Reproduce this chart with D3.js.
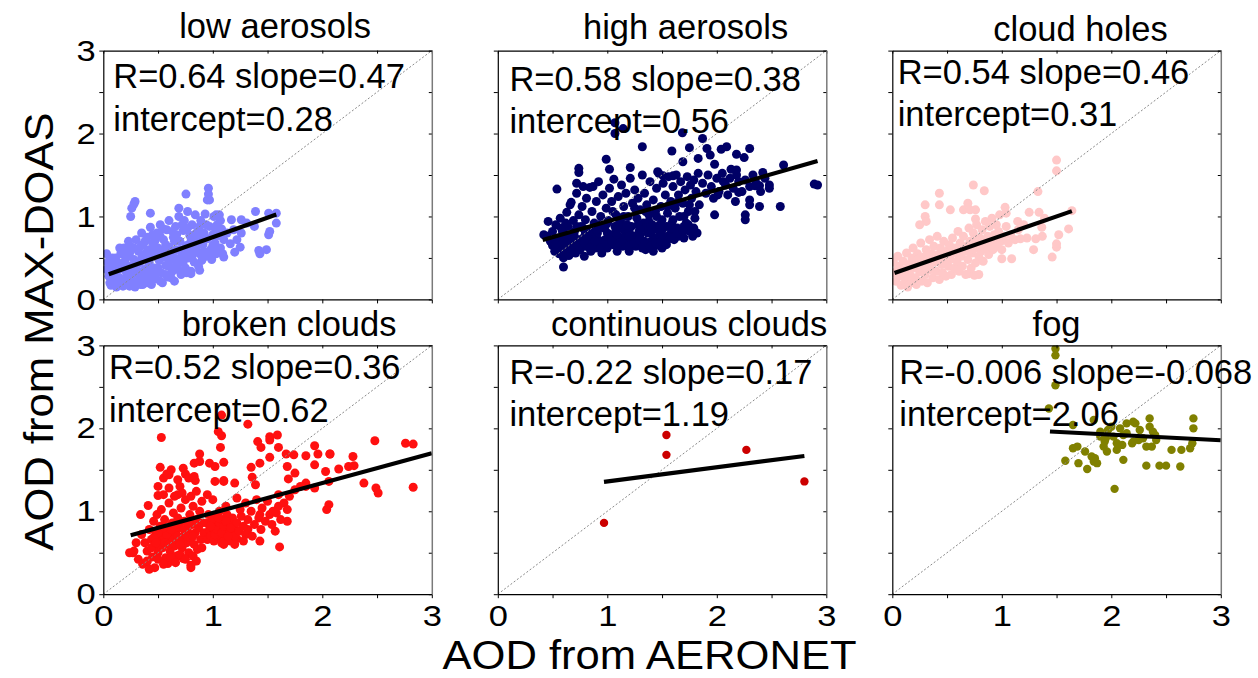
<!DOCTYPE html>
<html>
<head>
<meta charset="utf-8">
<script src="https://cdn.jsdelivr.net/npm/d3@7"></script>
<style>
  html, body { margin: 0; padding: 0; background: #fff; }
  svg { display: block; font-family: "Liberation Sans", Arial, Helvetica, sans-serif; }
</style>
</head>
<body>
<svg id="chart" width="1258" height="678"></svg>
<script>
// ---- data -------------------------------------------------------------
const panelTitles = ["low aerosols", "high aerosols", "cloud holes",
                     "broken clouds", "continuous clouds", "fog"];
const rValues    = ["0.64", "0.58", "0.54", "0.52", "-0.22", "-0.006"];
const slopes     = [0.47, 0.38, 0.46, 0.36, 0.17, -0.068];
const intercepts = [0.28, 0.56, 0.31, 0.62, 1.19, 2.06];
// AERONET range covered by each fit line
const fitRanges  = [[0.05, 1.58], [0.41, 2.92], [0.02, 1.64], [0.25, 3.0], [0.97, 2.8], [1.44, 3.0]];
const tickValues = [0, 0.5, 1, 1.5, 2, 2.5, 3];
const tickLabels = [0, 1, 2, 3];
const xAxisTitle = "AOD from AERONET";
const yAxisTitle = "AOD from MAX-DOAS";

// [AOD AERONET, AOD MAX-DOAS]
const lowAerosols = [
  [0.03,0.55],[0.04,0.45],[0.03,0.36],[0.05,0.28],[0.06,0.2],[0.08,0.5],[0.09,0.4],[0.1,0.31],[0.1,0.22],[0.12,0.15],
  [0.13,0.45],[0.14,0.36],[0.15,0.26],[0.16,0.55],[0.17,0.19],[0.07,0.17],[0.18,0.16],[0.24,0.16],[0.36,0.18],
  [0.19,0.62],[0.2,0.47],[0.2,0.35],[0.21,0.27],[0.22,0.19],[0.23,0.7],[0.24,0.56],[0.25,0.4],[0.26,0.3],[0.27,0.22],
  [0.28,0.62],[0.28,0.48],[0.29,0.15],[0.3,0.72],[0.3,0.36],[0.2,0.56],[0.3,0.44],
  [0.26,1.1],[0.29,1.18],[0.28,1.15],[0.25,1.0],
  [0.32,0.58],[0.33,0.44],[0.33,0.27],[0.34,0.18],[0.35,0.8],[0.36,0.66],[0.37,0.52],[0.38,0.36],[0.39,0.23],[0.4,0.75],
  [0.41,0.6],[0.42,0.44],[0.42,0.3],[0.43,0.87],[0.44,0.18],[0.45,0.68],[0.45,0.52],[0.43,1.04],[0.35,0.5],[0.4,0.38],
  [0.45,0.6],[0.45,0.78],
  [0.47,0.38],[0.48,0.25],[0.49,0.8],[0.5,0.62],[0.51,0.47],[0.52,0.9],[0.53,0.32],[0.54,0.2],[0.55,0.72],[0.56,0.55],
  [0.57,0.41],[0.58,0.84],[0.59,0.27],[0.6,0.63],[0.6,0.95],[0.55,0.6],[0.5,0.38],[0.6,0.4],[0.55,0.85],
  [0.62,0.48],[0.63,0.34],[0.64,0.75],[0.65,0.22],[0.66,0.88],[0.67,0.6],[0.68,0.42],[0.69,1.0],[0.7,0.7],[0.71,0.3],
  [0.72,0.53],[0.73,0.83],[0.74,0.95],[0.75,0.38],[0.69,1.1],[0.76,0.65],[0.65,0.5],[0.75,0.55],[0.7,0.5],[0.65,0.7],
  [0.77,1.06],[0.78,0.5],[0.79,0.77],[0.8,0.34],[0.81,0.9],[0.82,0.6],[0.83,0.45],[0.84,1.02],[0.85,0.7],[0.86,0.82],
  [0.87,0.4],[0.88,0.55],[0.89,0.95],[0.9,0.47],[0.755,1.27],[0.85,0.6],[0.8,0.7],[0.9,0.75],
  [0.91,0.66],[0.92,0.8],[0.93,1.03],[0.94,0.52],[0.95,0.73],[0.96,1.34],[0.96,1.27],[0.97,1.2],[0.97,0.88],[0.98,0.6],
  [0.99,0.48],[1.0,0.78],[1.01,1.0],[1.02,0.68],[1.03,0.55],[1.04,0.9],[1.05,0.77],[1.06,1.02],[1.07,0.62],[1.08,0.85],
  [1.09,0.55],[1.1,0.72],[1.1,0.51],
  [1.17,0.96],[1.19,0.84],[1.26,0.8],[1.25,0.63],[1.16,0.67],[1.2,0.57],[1.31,0.92],[1.39,1.06],[1.38,0.88],[1.42,0.59],
  [1.43,0.55],[1.49,0.6],[1.51,0.78],[1.52,0.82],[1.58,0.92],[1.58,1.04],[1.51,1.04],[1.26,0.96],[0.88,0.35],[0.76,0.32],
  [0.8,0.31],[1.03,1.02],[0.95,1.2],[1.13,0.8],[1.22,0.72],
  [0.06,0.33],[0.11,0.5],[0.12,0.38],[0.18,0.42],[0.22,0.52],[0.23,0.31],[0.27,0.4],[0.32,0.34],[0.34,0.64],[0.38,0.7],
  [0.39,0.56],[0.41,0.48],[0.44,0.36],[0.47,0.7],[0.48,0.55],[0.49,0.32],[0.52,0.76],[0.53,0.5],[0.57,0.66],[0.58,0.5],
  [0.62,0.58],[0.63,0.82],[0.66,0.4],[0.67,0.78],[0.7,0.6],[0.72,0.9],[0.73,0.45],[0.77,0.86],[0.78,0.6],[0.81,0.52],
  [0.83,0.78],[0.87,0.66],[0.88,0.88],[0.92,0.58],[0.94,0.9],[0.96,0.55],[1.0,0.65],[1.02,0.86],[1.05,0.6],[1.07,0.95],
  [0.15,0.62],[0.25,0.64],[0.35,0.28],[0.46,0.26],[0.57,0.3],[0.68,0.36],[0.62,0.26],[0.52,0.22],[0.4,0.2],[0.3,0.18],
  [0.14,0.2],[0.05,0.42]
];

const highAerosols = [
  [1.07,2.13],[1.07,2.0],[1.145,2.06],[1.686,2.01],[1.32,1.84],[1.59,1.79],[1.75,1.83],[1.87,1.94],[1.91,1.82],[1.94,1.74],
  [2.04,1.81],[2.09,1.84],[2.18,1.75],[2.25,1.71],[2.3,1.82],[0.99,1.69],[0.74,1.58],[0.74,1.53],[1.02,1.57],[1.21,1.59],
  [1.46,1.54],[1.51,1.49],[1.6,1.49],[1.69,1.66],[1.83,1.7],[1.98,1.63],[2.13,1.57],[2.18,1.56],[2.42,1.53],[2.61,1.62],
  [2.89,1.39],[2.92,1.38],[2.48,1.34],[2.39,1.37],[2.35,1.37],[2.2,1.29],[2.3,1.2],[2.3,1.14],[2.39,1.12],[2.58,1.12],
  [2.17,1.18],[1.98,1.02],[2.26,1.02],[2.26,0.96],[2.06,1.42],[2.01,1.26],[0.54,1.33],[0.42,0.78],[0.46,0.94],[0.6,0.39],
  [0.45,0.76],[0.48,0.7],[0.5,0.82],[0.5,0.65],[0.52,0.58],[0.53,0.9],[0.55,0.74],[0.56,0.55],[0.57,0.98],[0.58,0.66],
  [0.59,0.82],[0.6,0.5],[0.61,0.72],[0.62,0.6],[0.63,1.05],[0.64,0.88],[0.65,0.53],[0.66,0.76],[0.67,1.17],[0.68,0.64],
  [0.69,0.95],[0.7,0.82],[0.71,0.56],[0.72,1.28],[0.73,0.7],[0.74,1.02],[0.75,0.6],[0.76,0.88],[0.77,1.12],[0.78,0.74],
  [0.79,0.52],[0.8,0.96],[0.81,1.22],[0.82,0.66],[0.83,0.84],[0.84,1.35],[0.85,0.58],[0.86,1.06],[0.87,0.75],[0.88,0.92],
  [0.89,0.62],[0.9,1.18],[0.72,1.4],[0.78,1.36],[0.87,1.36],[0.66,1.14],
  [0.91,0.8],[0.92,1.42],[0.93,0.68],[0.94,1.0],[0.95,0.56],[0.96,1.26],[0.97,0.86],[0.98,0.72],[0.99,1.1],[1.0,0.62],
  [1.01,0.95],[1.02,1.34],[1.03,0.78],[1.04,1.18],[1.05,0.66],[1.06,1.45],[1.07,0.88],[1.08,1.02],[1.09,0.58],[1.1,1.24],
  [1.11,0.74],[1.12,0.94],[1.13,1.38],[1.14,0.64],[1.15,1.12],[1.16,0.82],[1.17,1.28],[1.18,0.7],[1.19,1.0],[1.2,0.58],
  [1.21,1.46],[1.22,0.88],[1.23,1.16],[1.24,0.76],[1.25,1.32],[1.26,0.64],[1.27,0.98],[1.28,1.22],[1.29,0.82],[1.3,1.08],
  [1.31,0.7],[1.32,1.5],[1.33,0.92],[1.34,1.28],[1.35,0.6],[1.36,1.14],[1.37,0.8],[1.38,1.02],[1.39,1.42],[1.4,0.7],
  [1.41,0.9],[1.42,1.2],[1.43,0.64],[1.44,1.06],[1.45,1.34],[1.46,0.84],[1.47,1.52],[1.48,0.74],[1.49,1.12],[1.5,0.96],
  [1.51,1.4],[1.52,0.68],[1.53,1.26],[1.54,0.88],[1.55,1.04],[1.56,1.48],[1.57,0.78],[1.58,1.18],[1.59,0.92],[1.6,1.36],
  [1.61,0.72],[1.62,1.1],[1.63,1.5],[1.64,0.86],[1.65,1.26],[1.66,1.0],[1.67,1.42],[1.68,0.8],[1.69,1.16],[1.7,0.74],
  [1.71,1.32],[1.72,0.92],[1.73,1.48],[1.74,1.06],[1.75,0.82],[1.76,1.38],[1.77,1.22],[1.78,0.76],[1.79,1.44],[1.8,0.98],
  [1.81,1.3],[1.82,0.8],[1.83,1.52],[1.84,1.14],
  [1.87,1.4],[1.9,1.28],[1.92,1.5],[1.95,1.36],[1.97,1.22],[2.0,1.46],[2.02,1.3],[2.05,1.52],[2.08,1.38],[2.1,1.26],
  [2.12,1.46],[2.15,1.34],[2.18,1.5],[2.2,1.42],[2.23,1.3],[2.26,1.44],[2.3,1.36],[2.33,1.5],[2.36,1.4],[2.4,1.3],
  [2.44,1.46],[2.48,1.38],
  [0.55,0.62],[0.6,0.7],[0.65,0.66],[0.7,0.62],[0.75,0.72],[0.8,0.64],[0.85,0.7],[0.9,0.76],[0.95,0.7],[1.0,0.8],
  [1.05,0.76],[1.1,0.68],[1.15,0.74],[1.2,0.82],[1.25,0.7],[1.3,0.78],[1.35,0.86],[1.4,0.8],[1.45,0.74],[1.5,0.84],
  [1.55,0.72],[1.6,0.82],[1.65,0.76],[1.7,0.88],[0.58,0.86],[0.68,0.78],[0.78,0.86],[0.88,0.82],[0.98,0.88],[1.08,0.84],
  [1.18,0.9],[1.28,0.9],[1.38,0.94],[1.48,0.9],[1.58,0.86],[0.62,0.92],[0.72,0.88],[0.82,0.76],[0.92,0.9],[1.02,0.72],
  [1.12,0.86],[1.22,0.64],[1.32,0.62],[1.42,0.58],[1.5,0.62],[0.52,0.72],[0.57,0.6],[0.63,0.76],[0.67,0.56],[0.76,0.66],
  [0.53,0.66],[0.58,0.58],[0.63,0.68],[0.69,0.72],[0.74,0.64],[0.79,0.68],[0.84,0.62],[0.89,0.7],[0.94,0.62],[0.99,0.66],
  [1.04,0.7],[1.09,0.78],[1.14,0.7],[1.19,0.64],[1.24,0.68],[1.29,0.72],[1.34,0.7],[1.39,0.64],[1.44,0.68],[1.49,0.7],
  [1.54,0.66],[1.59,0.74],[1.64,0.8],[1.69,0.84],[1.74,0.9],[1.79,0.86],[0.6,0.8],[0.7,0.76],[0.8,0.8],[0.9,0.84],
  [1.0,0.92],[1.1,0.9],[1.2,0.76],[1.3,0.84],[1.4,0.88],[1.5,0.78],[1.6,0.96],[1.7,1.0],[1.8,1.06],[1.05,1.06],
  [1.15,1.0],[1.25,1.1],[1.35,1.06],[1.45,1.0],[1.55,1.12],[1.65,1.18],[1.75,1.14]
];

const cloudHoles = [
  [1.5,1.68],[1.5,1.55],[0.74,1.38],[0.84,1.31],[0.43,1.28],[0.43,1.14],[0.3,1.14],[0.3,1.0],[0.31,0.94],[0.25,0.9],
  [0.69,1.16],[0.65,1.08],[0.53,1.08],[0.71,1.08],[0.76,1.08],[0.76,0.97],[1.03,1.11],[1.04,1.04],[1.33,1.3],[1.25,1.05],
  [1.34,1.05],[1.39,0.98],[1.145,0.94],[1.365,0.87],[1.52,0.78],[1.61,0.85],[1.64,1.07],[1.37,0.76],[1.31,0.73],[1.29,0.6],
  [1.5,0.67],[1.5,0.63],[1.46,0.51],[1.23,0.74],[1.17,0.73],[1.09,0.49],[0.7,0.31],[0.75,0.29],[0.79,0.3],[1.0,0.49],
  [0.01,0.45],[0.02,0.32],[0.03,0.22],[0.05,0.52],[0.06,0.4],[0.07,0.28],[0.08,0.17],[0.1,0.46],[0.11,0.35],[0.12,0.24],
  [0.13,0.56],[0.14,0.15],[0.15,0.42],[0.16,0.3],[0.17,0.2],[0.18,0.5],[0.19,0.62],[0.2,0.38],[0.21,0.26],[0.22,0.18],
  [0.23,0.55],[0.24,0.44],[0.25,0.33],[0.26,0.68],[0.27,0.22],[0.28,0.5],[0.29,0.4],[0.3,0.3],[0.31,0.6],[0.32,0.2],
  [0.33,0.46],[0.34,0.72],[0.35,0.36],[0.36,0.55],[0.37,0.26],[0.38,0.64],[0.39,0.45],[0.4,0.34],[0.41,0.76],[0.42,0.54],
  [0.43,0.24],[0.44,0.62],[0.45,0.42],[0.46,0.32],[0.47,0.7],[0.48,0.5],[0.49,0.28],[0.5,0.58],[0.51,0.4],[0.52,0.66],
  [0.53,0.48],[0.54,0.3],[0.55,0.74],[0.56,0.56],[0.57,0.38],[0.58,0.62],[0.59,0.46],[0.6,0.82],[0.61,0.34],[0.62,0.68],
  [0.63,0.52],[0.64,0.4],[0.65,0.76],[0.66,0.58],[0.67,0.3],[0.68,0.64],[0.69,0.48],[0.7,0.86],[0.71,0.7],[0.72,0.38],
  [0.73,0.56],[0.74,0.8],[0.75,0.62],[0.76,0.44],[0.77,0.9],[0.78,0.66],[0.79,0.52],[0.8,0.74],[0.81,0.58],[0.82,0.84],
  [0.83,0.46],[0.84,0.68],[0.85,0.94],[0.86,0.62],[0.87,0.76],[0.88,0.54],[0.89,0.88],[0.9,0.68],[0.91,0.98],[0.92,0.6],
  [0.93,0.78],[0.94,0.72],[0.95,0.9],[0.96,0.64],[0.97,0.82],[0.98,1.02],[0.99,0.7],[1.0,0.6],[1.02,0.76],[1.04,0.88],
  [1.06,0.68],[1.08,0.78],[1.12,0.72],[1.15,0.84],[1.2,0.9],
  [0.35,0.45],[0.4,0.5],[0.45,0.52],[0.5,0.48],[0.55,0.62],[0.6,0.55],[0.65,0.6],[0.7,0.58],[0.75,0.7],[0.8,0.64],
  [0.25,0.5],[0.2,0.46],[0.3,0.52],[0.15,0.36],[0.1,0.28],[0.05,0.36]
];

const brokenClouds = [
  [1.08,2.16],[1.32,2.05],[0.53,1.89],[1.05,1.96],[1.08,1.91],[1.07,1.77],[1.52,1.9],[1.52,1.86],[1.59,1.92],[1.41,1.84],
  [1.44,1.77],[1.6,1.77],[1.67,1.69],[1.74,1.68],[1.93,1.79],[1.85,1.67],[1.96,1.69],[2.07,1.69],[2.28,1.66],[2.48,1.85],
  [2.76,1.82],[2.83,1.81],[2.83,1.29],[2.49,1.28],[2.51,1.22],[2.38,1.34],[2.24,1.54],[2.29,1.55],[2.15,1.51],[2.03,1.48],
  [1.93,1.56],[1.93,1.28],[2.06,1.36],[2.06,1.08],[2.04,1.02],[1.85,1.34],[1.85,1.3],[1.75,1.46],[1.69,1.39],[1.68,1.54],
  [1.52,1.65],[1.35,1.53],[1.43,1.58],[1.36,1.41],[1.39,1.32],[1.2,1.34],[1.1,1.37],[1.02,1.36],[0.88,1.6],[0.83,1.58],
  [0.97,1.58],[1.02,1.54],[0.73,1.52],[0.75,1.45],[0.83,1.42],[0.84,1.37],[0.52,1.53],[0.6,1.44],[0.55,1.4],[0.5,1.19],
  [0.68,1.2],[0.41,1.07],[0.34,0.96],[0.24,0.5],[0.27,0.5],[0.4,0.39],[0.47,0.32],[0.59,0.37],[0.73,0.43],[0.8,0.35],
  [0.8,0.32],[1.43,0.64],[1.61,0.57],[1.57,0.76],[1.68,0.88],[1.6,1.06],[1.52,0.96],[1.43,0.96],[1.32,0.78],[1.22,0.67],
  [0.88,1.69],[1.1,1.59],[1.1,1.36],[2.07,1.69],
  [0.38,0.62],[0.4,0.52],[0.42,0.78],[0.44,0.66],[0.45,0.45],[0.46,0.88],[0.47,0.58],[0.48,0.72],[0.49,0.96],[0.5,0.5],
  [0.51,0.64],[0.52,0.82],[0.53,1.02],[0.54,0.56],[0.55,0.7],[0.56,0.9],[0.57,0.44],[0.58,0.62],[0.59,0.78],[0.6,1.1],
  [0.61,0.52],[0.62,0.68],[0.63,0.86],[0.64,0.98],[0.65,0.58],[0.66,0.74],[0.67,0.46],[0.68,0.92],[0.69,0.64],[0.7,0.8],
  [0.71,1.04],[0.72,0.56],[0.73,0.7],[0.74,0.88],[0.75,1.14],[0.76,0.62],[0.77,0.76],[0.78,0.5],[0.79,0.96],[0.8,0.68],
  [0.81,0.84],[0.82,1.06],[0.83,0.6],[0.84,0.74],[0.85,0.9],[0.86,0.54],[0.87,0.8],[0.88,1.0],[0.89,0.66],[0.9,0.86],
  [0.52,0.6],[0.56,0.62],[0.6,0.6],[0.64,0.66],[0.68,0.7],[0.72,0.64],[0.76,0.7],[0.58,0.72],[0.62,0.78],[0.66,0.84],
  [0.7,0.6],[0.74,0.78],[0.78,0.84],[0.82,0.7],[0.55,0.8],[0.5,0.74],[0.46,0.68],[0.44,0.56],[0.48,0.62],
  [0.92,0.74],[0.94,0.86],[0.95,0.66],[0.96,0.96],[0.97,0.78],[0.98,0.7],[0.99,0.88],[1.0,0.8],[1.01,0.64],[1.02,0.92],
  [1.03,0.76],[1.04,0.84],[1.05,0.7],[1.06,1.0],[1.07,0.8],[1.08,0.62],[1.09,0.9],[1.1,0.74],[1.11,0.84],[1.12,0.68],
  [1.13,0.96],[1.14,0.78],[1.15,0.88],[1.16,0.64],[1.17,0.72],[1.18,0.92],[1.19,0.8],[1.2,0.7],[1.22,0.86],[1.24,0.76],
  [1.26,0.94],[1.28,0.82],[1.3,0.72],[1.0,0.9],[1.02,0.72],[1.04,0.78],[1.06,0.86],[1.08,0.74],[1.1,0.82],[1.12,0.88],
  [1.14,0.7],[1.16,0.8],[0.98,0.82],[1.05,0.92],[1.1,0.6],[1.2,0.6],[1.25,1.02],[1.32,0.9],[1.35,1.0],[1.38,0.84],
  [1.42,0.92],[1.45,1.04],[1.48,0.88],[1.5,1.12],[1.55,1.0],[1.6,1.2],[1.62,0.9],[1.65,1.1],[1.7,1.18],[1.75,1.26],
  [1.8,1.3],[1.4,1.14],[1.3,1.1],[1.22,1.16],[1.12,1.06],[1.44,0.78],[1.54,0.84],[1.58,0.98],[1.68,1.02],[1.36,0.7],
  [1.28,0.64],
  [0.28,0.52],[0.32,0.42],[0.36,0.36],[0.4,0.4],[0.42,0.3],[0.5,0.42],[0.55,0.36],[0.62,0.44],[0.66,0.38],[0.7,0.48],
  [0.75,0.42],[0.82,0.46],[0.85,0.4],[0.9,0.56],[0.35,0.72],[0.3,0.62],
  [0.5,1.3],[0.55,1.2],[0.6,1.28],[0.65,1.18],[0.7,1.3],[0.72,1.22],[0.8,1.18],[0.85,1.24],[0.9,1.12],[0.95,1.2],
  [1.0,1.14],[0.78,1.4],[0.68,1.38],[0.58,1.45],[0.62,1.5]
];

const continuousClouds = [[0.97,0.86],[1.54,1.92],[1.54,1.68],[2.27,1.74],[2.8,1.36]];

const fog = [
  [1.49,2.96],[1.49,2.88],[1.49,2.52],[1.43,2.24],[1.65,2.04],[1.84,2.1],[2.14,2.06],[2.2,2.08],[2.35,2.12],[2.75,2.12],
  [2.75,2.0],[2.74,1.82],[2.72,1.76],[2.64,1.74],[2.55,1.74],[2.63,1.54],[2.5,1.55],[2.44,1.55],[2.32,1.55],[2.03,1.27],
  [2.11,1.62],[1.58,1.61],[1.7,1.58],[1.78,1.51],[1.65,1.76],[1.69,1.78],[1.76,1.72],[1.84,1.6],[1.85,1.64],[1.94,1.84],
  [1.93,1.78],[1.96,1.72],[2.05,1.82],[2.05,1.74],[2.11,1.92],[2.19,1.82],[2.2,1.84],[2.26,1.98],[2.29,1.88],[2.35,2.02],
  [2.38,1.96],[2.41,1.86],[2.37,1.78],[2.32,1.78],[2.25,1.86],[2.14,1.94],[2.02,1.9],[1.9,1.9],[1.9,1.96],[1.97,1.98],
  [2.08,2.0],[2.22,2.06],[1.87,1.58],[1.95,1.88],[2.0,2.02],[1.82,1.66],[2.4,1.92],[2.1,1.8]
];

const panelData = [lowAerosols, highAerosols, cloudHoles, brokenClouds, continuousClouds, fog];
const panelColors = ["#8080ff", "#000066", "#ffc8c8", "#ff1010", "#cc0000", "#808000"];
const dotRadius = [4.5, 4.5, 4.5, 4.5, 4.2, 4.2];

// ---- layout -----------------------------------------------------------
const panelW = 328.5, panelH = 248.8;
const colLeft = [103.3, 497.8, 892.3];
const rowTop  = [50.6, 345.4];
const titleShift = [7.5, 23.5, 24, 21.5, 27, 0];       // title centre offset from panel centre
const titleLift  = [13, 11.4, 10, 9.6, 9.6, 9.3];      // baseline height above panel top
const statsPos   = [[10, 37.6], [11.6, 40], [5.4, 33.3], [5.7, 34], [11.6, 38.3], [7, 38.3]];
const statsGap   = 42.4;
const labelFont  = 34.5;
const tickFont   = 30;
const tickStretch = 1.15;   // digits in the tick labels are set a little wider
const axisFont   = 40;
const axisStretch = 1.09;

const svg = d3.select("#chart");
const x = d3.scaleLinear().domain([0, 3]).range([0, panelW]);
const y = d3.scaleLinear().domain([0, 3]).range([panelH, 0]);

panelData.forEach((pts, i) => {
  const col = i % 3, row = Math.floor(i / 3);
  const g = svg.append("g").attr("transform", `translate(${colLeft[col]},${rowTop[row]})`);

  g.append("clipPath").attr("id", "clip" + i)
    .append("rect").attr("width", panelW).attr("height", panelH);

  // scatter
  g.append("g").attr("clip-path", `url(#clip${i})`)
    .selectAll("circle").data(pts).join("circle")
    .attr("cx", d => x(d[0])).attr("cy", d => y(d[1]))
    .attr("r", dotRadius[i])
    .attr("fill", panelColors[i]);

  // 1:1 reference line
  g.append("line")
    .attr("x1", x(0)).attr("y1", y(0)).attr("x2", x(3)).attr("y2", y(3))
    .attr("stroke", "#8a8a8a").attr("stroke-width", 1).attr("stroke-dasharray", "2,2");

  // linear fit
  const [a, b] = fitRanges[i];
  g.append("line")
    .attr("x1", x(a)).attr("y1", y(intercepts[i] + slopes[i] * a))
    .attr("x2", x(b)).attr("y2", y(intercepts[i] + slopes[i] * b))
    .attr("stroke", "#000").attr("stroke-width", 4.2);

  // axes
  const fmtX = d => (row === 1 && tickLabels.includes(d)) ? d : "";
  const fmtY = d => (col === 0 && tickLabels.includes(d)) ? d : "";
  const bottom = g.append("g").attr("transform", `translate(0,${panelH})`)
    .call(d3.axisBottom(x).tickValues(tickValues).tickSize(4).tickSizeOuter(0).tickPadding(6.5).tickFormat(fmtX));
  const left = g.append("g")
    .call(d3.axisLeft(y).tickValues(tickValues).tickSize(4).tickSizeOuter(0).tickPadding(3.5).tickFormat(fmtY));
  const top = g.append("g")
    .call(d3.axisTop(x).tickValues(tickValues).tickSize(-3).tickSizeOuter(0).tickFormat(""));
  const right = g.append("g").attr("transform", `translate(${panelW},0)`)
    .call(d3.axisRight(y).tickValues(tickValues).tickSize(-3).tickSizeOuter(0).tickFormat(""));

  [bottom, left, top, right].forEach(ax => {
    ax.attr("font-family", null).attr("font-size", null);
    ax.selectAll("text").attr("font-size", tickFont).attr("fill", "#000");
    ax.selectAll("line").attr("stroke", "#000");
    ax.select(".domain").attr("stroke", "#000").attr("stroke-width", 1.2);
  });
  right.select(".domain").attr("stroke", "#7a7a7a").attr("stroke-width", 1.5);
  bottom.selectAll("text").attr("transform", `scale(${tickStretch},1)`);
  left.selectAll("text")
    .attr("x", -7.5 / tickStretch)
    .attr("transform", `scale(${tickStretch},1)`);

  // title
  g.append("text")
    .attr("x", panelW / 2 + titleShift[i]).attr("y", -titleLift[i])
    .attr("text-anchor", "middle").attr("font-size", labelFont).attr("fill", "#000")
    .text(panelTitles[i]);

  // regression statistics
  const [sx, sy] = statsPos[i];
  g.append("text").attr("x", sx).attr("y", sy)
    .attr("font-size", labelFont).attr("fill", "#000")
    .text(`R=${rValues[i]} slope=${slopes[i]}`);
  g.append("text").attr("x", sx).attr("y", sy + statsGap)
    .attr("font-size", labelFont).attr("fill", "#000")
    .text(`intercept=${intercepts[i]}`);
});

// shared axis titles
svg.append("text")
  .attr("transform", `translate(649.5,669) scale(${axisStretch},1)`)
  .attr("text-anchor", "middle").attr("font-size", axisFont).attr("fill", "#000")
  .text(xAxisTitle);
svg.append("text")
  .attr("transform", `translate(53,331.5) rotate(-90) scale(${axisStretch},1)`)
  .attr("text-anchor", "middle").attr("font-size", axisFont).attr("fill", "#000")
  .text(yAxisTitle);
</script>
</body>
</html>
